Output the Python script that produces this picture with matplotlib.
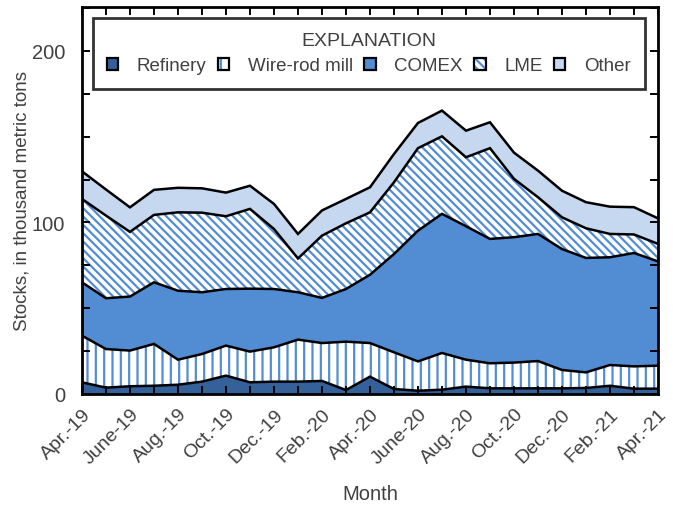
import numpy as np
import matplotlib
matplotlib.use("Agg")
import matplotlib.pyplot as plt
from matplotlib.patches import Patch
from matplotlib.legend_handler import HandlerTuple

# ---- data (thousand metric tons) ----
months = ["Apr.-19", "May-19", "June-19", "July-19", "Aug.-19", "Sept.-19", "Oct.-19", "Nov.-19",
          "Dec.-19", "Jan.-20", "Feb.-20", "Mar.-20", "Apr.-20", "May-20", "June-20", "July-20",
          "Aug.-20", "Sept.-20", "Oct.-20", "Nov.-20", "Dec.-20", "Jan.-21", "Feb.-21", "Mar.-21", "Apr.-21"]
tick_labels = ["Apr.-19", "June-19", "Aug.-19", "Oct.-19", "Dec.-19", "Feb.-20", "Apr.-20",
               "June-20", "Aug.-20", "Oct.-20", "Dec.-20", "Feb.-21", "Apr.-21"]
refinery = [6.8, 3.7, 4.5, 4.8, 5.4, 7.2, 10.7, 6.8, 7.2, 7.2, 7.6, 2.3, 10.1,
            2.9, 1.9, 2.5, 4.3, 3.3, 3.3, 3.3, 3.3, 3.5, 4.8, 3.1, 3.1]
wire_rod = [27.2, 22.5, 20.8, 24.4, 14.6, 16.1, 17.5, 17.9, 20.0, 24.5, 22.1, 28.2, 19.6,
            21.4, 17.1, 21.4, 15.7, 14.6, 15.0, 15.9, 10.7, 9.1, 12.1, 13.0, 13.4]
comex = [31.1, 29.6, 31.5, 35.9, 40.2, 36.0, 33.0, 36.7, 34.0, 27.6, 26.3, 30.7, 39.8,
         57.3, 76.2, 81.1, 77.8, 72.5, 73.1, 74.1, 70.5, 66.7, 62.8, 66.1, 60.8]
lme = [48.6, 48.2, 37.7, 39.3, 45.7, 46.4, 42.4, 46.5, 35.0, 19.7, 36.3, 38.3, 36.4,
       41.8, 48.1, 45.2, 40.2, 52.9, 34.0, 21.4, 18.5, 17.3, 13.6, 10.8, 10.2]
other = [16.1, 15.2, 14.3, 14.6, 14.3, 14.2, 13.8, 13.5, 14.6, 14.3, 14.7, 14.2, 14.6,
         16.5, 14.7, 15.0, 15.5, 15.1, 15.3, 15.5, 15.5, 15.2, 15.9, 15.9, 14.9]
series_names = ["Refinery", "Wire-rod mill", "COMEX", "LME", "Other"]

# ---- style ----
plt.rcParams['font.family'] = ['Liberation Sans', 'DejaVu Sans']
plt.rcParams['hatch.linewidth'] = 1.6
txt = '#404040'
c_ref = '#35619a'
c_blue = '#528dd4'
c_other = '#c6d8ef'

fig = plt.figure(figsize=(6.73, 5.06), dpi=100)
ax = fig.add_axes([0.1218, 0.2194, 0.8559, 0.7648])

x = np.arange(len(months))
data = [np.array(refinery), np.array(wire_rod), np.array(comex), np.array(lme), np.array(other)]
cum = np.cumsum(np.vstack(data), axis=0)
bottoms = [np.zeros(len(x))] + [cum[i] for i in range(4)]

styles = [
    dict(facecolor=c_ref, edgecolor=c_ref, hatch=None),
    dict(facecolor='white', edgecolor=c_blue, hatch='||'),
    dict(facecolor=c_blue, edgecolor=c_blue, hatch=None),
    dict(facecolor='white', edgecolor=c_blue, hatch='\\\\\\\\'),
    dict(facecolor=c_other, edgecolor=c_other, hatch=None),
]
for i in range(5):
    ax.fill_between(x, bottoms[i], cum[i], linewidth=0, **styles[i])
for i in range(5):
    ax.plot(x, cum[i], color='black', lw=1.8, solid_joinstyle='miter', zorder=3)

ax.set_xlim(0, 24)
ax.set_ylim(0, 225.6)
ax.set_xticks(x, minor=True)
ax.set_xticks(x[::2])
ax.set_xticklabels(tick_labels, rotation=45, ha='right', rotation_mode='anchor',
                   fontsize=14, color=txt)
ax.set_yticks([0, 100, 200])
ax.set_yticks(np.arange(0, 226, 25), minor=True)
ax.set_yticklabels(['0', '100', '200'], fontsize=14.5, color=txt)
ax.tick_params(axis='both', which='both', direction='in', top=True, right=True,
               length=6, width=1.4, color='black')
ax.tick_params(axis='x', which='major', pad=8)
ax.tick_params(axis='y', which='major', pad=12)
for s in ax.spines.values():
    s.set_linewidth(2)

ax.set_ylabel('Stocks, in thousand metric tons', fontsize=13.5, color=txt, labelpad=1)
ax.set_xlabel('Month', fontsize=14.5, color=txt, labelpad=12)

# legend
handles = []
for i in range(5):
    st = styles[i]
    fill = Patch(facecolor=st['facecolor'], edgecolor=st['edgecolor'], hatch=st['hatch'], linewidth=0)
    border = Patch(facecolor='none', edgecolor='black', linewidth=1.6)
    handles.append((fill, border))
leg = ax.legend(handles, series_names, handler_map={tuple: HandlerTuple(ndivide=1, pad=0)},
                ncol=5, loc='upper left', bbox_to_anchor=(0.019, 0.9716, 0.958, 0.0),
                mode='expand', borderaxespad=0, title='EXPLANATION', fontsize=13.5,
                title_fontsize=14, frameon=True, fancybox=False, edgecolor='black',
                borderpad=0.75, labelspacing=0.45,
                handlelength=0.6, handleheight=0.6, handletextpad=1.0, columnspacing=1.0)
leg.get_frame().set_linewidth(2)
leg.get_title().set_color(txt)
for t in leg.get_texts():
    t.set_color(txt)

fig.savefig('out.png', dpi=100)
